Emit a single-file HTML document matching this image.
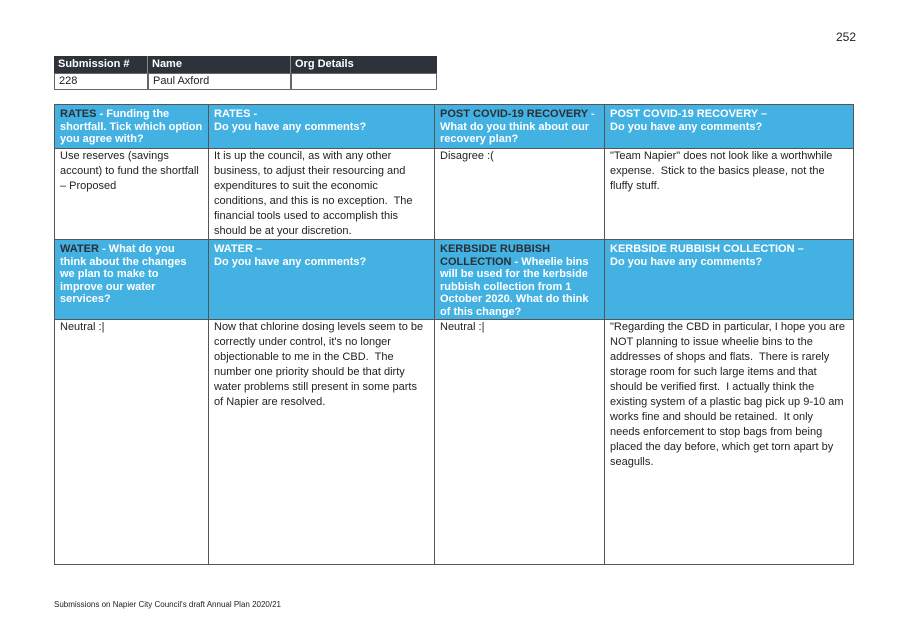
<!DOCTYPE html>
<html><head><style>
body{margin:0;width:906px;height:635px;background:#fff;position:relative;font-family:"Liberation Sans",Arial,sans-serif;overflow:hidden;color:#222}
.a{position:absolute;box-sizing:border-box}
.pg{left:836px;top:30px;font-size:12px}
.th{background:#2d323b;color:#fff;font-weight:bold;font-size:11px;padding:2px 4px 0;height:17px;top:56px;border-right:1px solid #888}
.td{font-size:11px;padding:1px 4px;height:17px;top:73px;border:1px solid #666;margin-left:-1px}
.c{font-size:11px;line-height:15px;padding:0 5px;border:1px solid #555;overflow:hidden}
.h{background:#43b1e1;color:#fff;font-weight:bold;line-height:12.5px;padding:3px 5px 2px}
.d{color:#2b2f36}
.f{left:54px;top:600px;font-size:8px}
</style></head><body>
<div class="a pg">252</div>
<div class="a th" style="left:54px;width:94px">Submission #</div>
<div class="a th" style="left:148px;width:143px">Name</div>
<div class="a th" style="left:291px;width:146px;border-right:0">Org Details</div>
<div class="a td" style="left:55px;width:94px">228</div>
<div class="a td" style="left:149px;width:143px">Paul Axford</div>
<div class="a td" style="left:292px;width:146px"></div>

<div class="a c h" style="left:54px;top:104px;width:155px;height:45px"><span class="d">RATES</span> - Funding the shortfall. Tick which option you agree with?</div>
<div class="a c h" style="left:208px;top:104px;width:227px;height:45px">RATES -<br>Do you have any comments?</div>
<div class="a c h" style="left:434px;top:104px;width:171px;height:45px"><span class="d">POST COVID-19 RECOVERY</span> - What do you think about our recovery plan?</div>
<div class="a c h" style="left:604px;top:104px;width:250px;height:45px">POST COVID-19 RECOVERY –<br>Do you have any comments?</div>

<div class="a c" style="left:54px;top:148px;width:155px;height:92px">Use reserves (savings account) to fund the shortfall – Proposed</div>
<div class="a c" style="left:208px;top:148px;width:227px;height:92px">It is up the council, as with any other business, to adjust their resourcing and expenditures to suit the economic conditions, and this is no exception.&nbsp; The financial tools used to accomplish this should be at your discretion.</div>
<div class="a c" style="left:434px;top:148px;width:171px;height:92px">Disagree :(</div>
<div class="a c" style="left:604px;top:148px;width:250px;height:92px">"Team Napier" does not look like a worthwhile expense.&nbsp; Stick to the basics please, not the fluffy stuff.</div>

<div class="a c h" style="left:54px;top:239px;width:155px;height:81px"><span class="d">WATER</span> - What do you think about the changes we plan to make to improve our water services?</div>
<div class="a c h" style="left:208px;top:239px;width:227px;height:81px">WATER –<br>Do you have any comments?</div>
<div class="a c h" style="left:434px;top:239px;width:171px;height:81px"><span class="d">KERBSIDE RUBBISH COLLECTION</span> - Wheelie bins will be used for the kerbside rubbish collection from 1 October 2020. What do think of this change?</div>
<div class="a c h" style="left:604px;top:239px;width:250px;height:81px">KERBSIDE RUBBISH COLLECTION –<br>Do you have any comments?</div>

<div class="a c" style="left:54px;top:319px;width:155px;height:246px">Neutral :|</div>
<div class="a c" style="left:208px;top:319px;width:227px;height:246px">Now that chlorine dosing levels seem to be correctly under control, it's no longer objectionable to me in the CBD.&nbsp; The number one priority should be that dirty water problems still present in some parts of Napier are resolved.</div>
<div class="a c" style="left:434px;top:319px;width:171px;height:246px">Neutral :|</div>
<div class="a c" style="left:604px;top:319px;width:250px;height:246px;padding-right:4px">"Regarding the CBD in particular, I hope you are NOT planning to issue wheelie bins to the addresses of shops and flats.&nbsp; There is rarely storage room for such large items and that should be verified first.&nbsp; I actually think the existing system of a plastic bag pick up 9-10 am works fine and should be retained.&nbsp; It only<br>needs enforcement to stop bags from being placed the day before, which get torn apart by seagulls.</div>

<div class="a f">Submissions on Napier City Council's draft Annual Plan 2020/21</div>
</body></html>
